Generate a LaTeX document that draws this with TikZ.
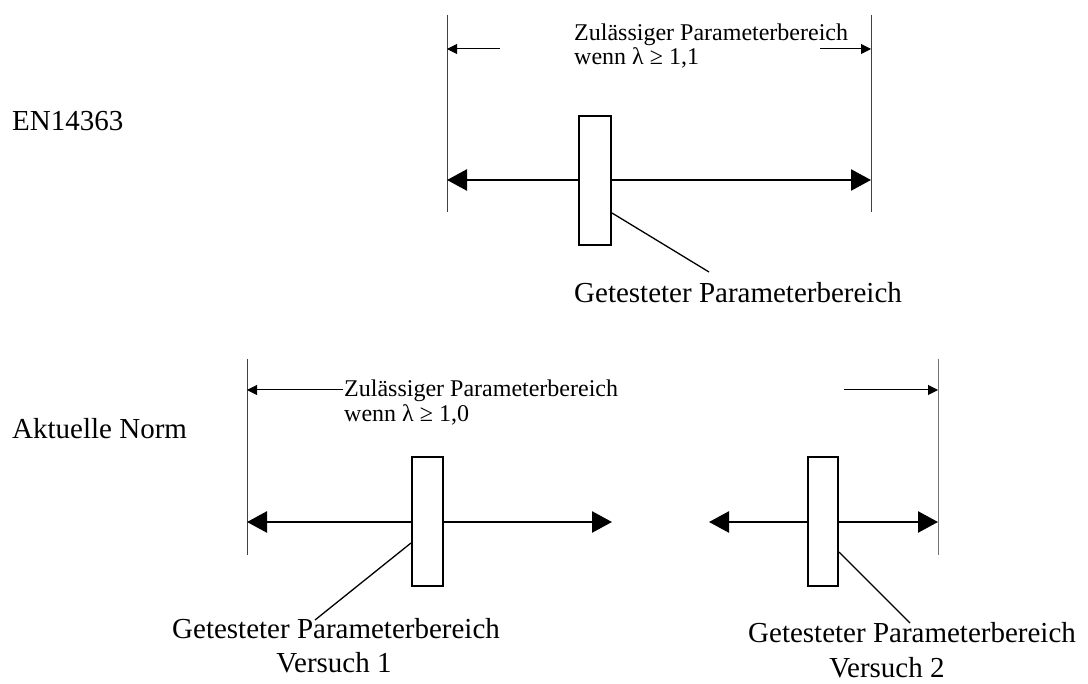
\documentclass[tikz,border=0pt]{standalone}
\usepackage{fontspec}
\setmainfont{Liberation Serif}
\usetikzlibrary{arrows.meta}
\begin{document}
\begin{tikzpicture}[x=1pt,y=-1pt,
  big/.style={font=\fontsize{29}{29}\selectfont, inner sep=0pt, anchor=base west},
  small/.style={font=\fontsize{24}{24}\selectfont, inner sep=0pt, anchor=base west},
  limit/.style={line width=1pt, draw=black!75},
  dim/.style={line width=1pt, -{Triangle[length=10pt,width=10pt]}},
  main/.style={line width=2.5pt, {Triangle[length=20pt,width=21pt]}-{Triangle[length=20pt,width=21pt]}},
  bar/.style={draw, line width=2pt, fill=white, inner sep=0pt, minimum width=31pt, minimum height=129pt},
  leader/.style={line width=1.3pt}]
\useasboundingbox (0,0) rectangle (1088,684);

% ---------- top: EN14363 ----------
\node[big] (en) at (12,131) {EN14363};
\coordinate (tlT) at (447,15); \coordinate (tlB) at (447,212);
\coordinate (trT) at (871,15); \coordinate (trB) at (871,212);
\draw[limit] (tlT) -- (tlB);
\draw[limit] (trT) -- (trB);
\coordinate (tdl) at (500,49); \coordinate (tdlE) at (447,49);
\coordinate (tdr) at (820,49); \coordinate (tdrE) at (871,49);
\draw[dim] (tdl) -- (tdlE);
\draw[dim] (tdr) -- (tdrE);
\node[small] (tz1) at (574,41) {Zulässiger Parameterbereich};
\node[small] (tz2) at (574,65) {wenn λ ≥ 1,1};
\coordinate (tmL) at (447,180); \coordinate (tmR) at (871,180);
\draw[main] (tmL) -- (tmR);
\node[bar, minimum width=32pt] (tbar) at (595,180.5) {};
\coordinate (tlead) at (709,272);
\draw[leader] (612,213) -- (tlead);
\node[big] (tg) at (574,303) {Getesteter Parameterbereich};

% ---------- bottom: Aktuelle Norm ----------
\node[big] (an) at (12,439) {Aktuelle Norm};
\coordinate (blT) at (247,359); \coordinate (blB) at (247,555);
\coordinate (brT) at (938,359); \coordinate (brB) at (938,555);
\draw[limit] (blT) -- (blB);
\draw[limit, draw=black!55] (brT) -- (brB);
\coordinate (bdl) at (343,390); \coordinate (bdlE) at (247,390);
\coordinate (bdr) at (844,390); \coordinate (bdrE) at (938,390);
\draw[dim] (bdl) -- (bdlE);
\draw[dim] (bdr) -- (bdrE);
\node[small] (bz1) at (344,397) {Zulässiger Parameterbereich};
\node[small] (bz2) at (344,422) {wenn λ ≥ 1,0};

\coordinate (b1L) at (247,522); \coordinate (b1R) at (612,522);
\draw[main] (b1L) -- (b1R);
\coordinate (b2L) at (709,522); \coordinate (b2R) at (938,522);
\draw[main] (b2L) -- (b2R);
\node[bar] (bbar1) at (427.5,522) {};
\node[bar, minimum width=30pt] (bbar2) at (823,522) {};

\node[big] (bg1) at (172,638) {Getesteter Parameterbereich};
\node[big, anchor=base] (bv1) at (334,672) {Versuch 1};
\node[big] (bg2) at (748,642) {Getesteter Parameterbereich};
\node[big, anchor=base] (bv2) at (887,677) {Versuch 2};

\coordinate (b1lead) at (315,620);
\draw[leader] (411,543) -- (b1lead);
\coordinate (b2lead) at (910,623);
\draw[leader] (839,552) -- (b2lead);
\end{tikzpicture}
\end{document}
